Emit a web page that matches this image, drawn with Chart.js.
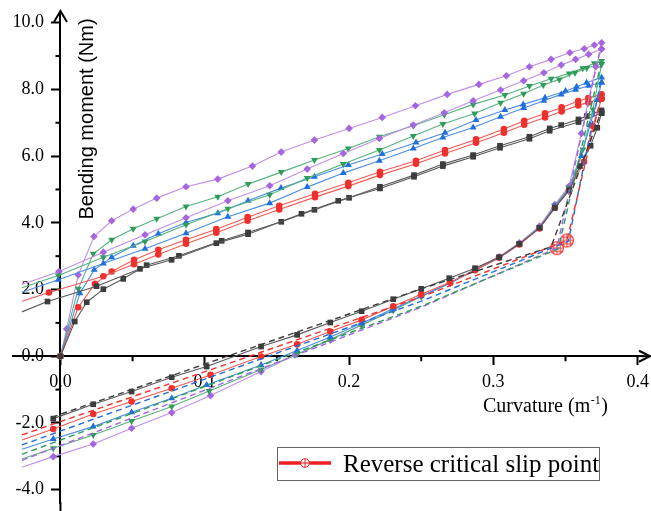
<!DOCTYPE html>
<html>
<head>
<meta charset="utf-8">
<script src="https://cdn.jsdelivr.net/npm/chart.js@4.4.1/dist/chart.umd.min.js"></script>
<style>
  html, body { margin: 0; padding: 0; background: #fff; }
  #momentChart { display: block; }
</style>
</head>
<body>
<canvas id="momentChart" width="651" height="511"></canvas>
<script>
// bending moment vs curvature, five specimens (loading, reloading, unloading, model)

const xTicks = [0, 0.1, 0.2, 0.3, 0.4];
const yTicks = [-4, -2, 0, 2, 4, 6, 8, 10];
const xMinor = [0.05, 0.15, 0.25, 0.35];
const yMinor = [-3, -1, 1, 3, 5, 7, 9];

// first loading branch [curvature, moment]
const grayLoad = [[0,0],[0.0099,1.04],[0.0182,1.62],[0.0297,2.01],[0.0435,2.32],[0.0597,2.73],[0.0821,3.01],[0.1117,3.46],[0.130,3.71],[0.153,4.03],[0.176,4.39],[0.200,4.75],[0.2214,5.08],[0.245,5.43],[0.265,5.76],[0.286,6.03],[0.3046,6.31],[0.325,6.58],[0.339,6.83],[0.347,6.93],[0.359,7.10],[0.3647,7.20],[0.375,7.37]];
const redLoad = [[0,0],[0.0123,1.47],[0.0239,2.17],[0.0355,2.54],[0.051,2.89],[0.0678,3.19],[0.087,3.49],[0.108,3.81],[0.1297,4.17],[0.1516,4.51],[0.1764,4.87],[0.1995,5.20],[0.2214,5.53],[0.2464,5.86],[0.2665,6.18],[0.288,6.50],[0.3073,6.81],[0.3214,7.06],[0.3358,7.28],[0.3473,7.46],[0.3588,7.65],[0.3658,7.74],[0.375,7.85]];
const blueLoad = [[0,0],[0.0135,1.89],[0.0234,2.59],[0.0355,2.97],[0.0504,3.31],[0.0678,3.67],[0.087,4.01],[0.109,4.29],[0.130,4.66],[0.1528,5.04],[0.176,5.38],[0.1995,5.73],[0.223,6.06],[0.2464,6.41],[0.2665,6.70],[0.288,7.08],[0.308,7.38],[0.3207,7.55],[0.3358,7.75],[0.350,7.95],[0.3577,8.08],[0.3646,8.20],[0.375,8.36]];
const greenLoad = [[0,0],[0.0123,2.02],[0.0227,3.07],[0.0355,3.49],[0.0504,3.82],[0.0667,4.12],[0.087,4.49],[0.109,4.78],[0.130,5.16],[0.153,5.52],[0.176,5.88],[0.1995,6.23],[0.221,6.58],[0.2445,6.91],[0.266,7.24],[0.286,7.55],[0.308,7.83],[0.325,8.10],[0.340,8.32],[0.3526,8.48],[0.362,8.63],[0.370,8.78],[0.375,8.85]];
const purpleLoad = [[0,0],[0.0043,0.82],[0.0123,2.44],[0.0232,3.59],[0.0355,4.06],[0.0504,4.41],[0.0667,4.74],[0.087,5.08],[0.109,5.31],[0.133,5.70],[0.153,6.12],[0.176,6.48],[0.200,6.83],[0.223,7.16],[0.246,7.51],[0.268,7.85],[0.290,8.15],[0.309,8.41],[0.325,8.68],[0.340,8.90],[0.353,9.10],[0.363,9.22],[0.370,9.33],[0.375,9.40]];

// reloading branch
const grayReload = [[-0.0267,1.33],[-0.009,1.64],[0.025,2.10],[0.0551,2.62],[0.077,2.89],[0.108,3.39],[0.130,3.66],[0.167,4.27],[0.1925,4.66],[0.2214,5.03],[0.245,5.38],[0.265,5.70],[0.286,5.98],[0.3046,6.25],[0.325,6.52],[0.339,6.76],[0.359,7.02],[0.375,7.29]];
const redReload = [[-0.0267,1.65],[-0.008,1.91],[0.0297,2.40],[0.051,2.76],[0.0678,3.05],[0.087,3.37],[0.108,3.70],[0.1297,4.06],[0.1516,4.40],[0.1764,4.77],[0.1995,5.10],[0.2214,5.43],[0.2464,5.77],[0.2665,6.08],[0.288,6.40],[0.3073,6.70],[0.3214,6.94],[0.3358,7.16],[0.3473,7.34],[0.3588,7.52],[0.3658,7.61],[0.375,7.72]];
const blueReload = [[-0.0267,1.92],[-0.0015,2.29],[0.0297,2.78],[0.0586,3.22],[0.087,3.69],[0.116,4.18],[0.145,4.59],[0.171,5.07],[0.196,5.49],[0.221,5.86],[0.2445,6.23],[0.265,6.56],[0.286,6.86],[0.305,7.18],[0.321,7.44],[0.335,7.66],[0.347,7.85],[0.357,7.99],[0.366,8.11],[0.375,8.21]];
const greenReload = [[-0.0267,2.05],[-0.0015,2.42],[0.0297,2.97],[0.0586,3.44],[0.087,3.94],[0.116,4.42],[0.145,4.84],[0.171,5.34],[0.196,5.76],[0.221,6.18],[0.2445,6.60],[0.265,6.96],[0.287,7.28],[0.305,7.60],[0.321,7.87],[0.3346,8.13],[0.3457,8.30],[0.3566,8.50],[0.3647,8.64],[0.375,8.76]];
const purpleReload = [[-0.0267,2.15],[-0.001,2.54],[0.0297,3.12],[0.0586,3.64],[0.087,4.15],[0.116,4.66],[0.145,5.11],[0.171,5.61],[0.196,6.08],[0.221,6.53],[0.2445,6.93],[0.266,7.30],[0.286,7.66],[0.305,7.98],[0.321,8.26],[0.335,8.50],[0.347,8.73],[0.357,8.90],[0.366,9.05],[0.375,9.21]];

// unloading branch (test)
const grayLow = [[-0.005,-1.87],[0.0227,-1.44],[0.0493,-1.06],[0.0771,-0.63],[0.1013,-0.31],[0.139,0.29],[0.164,0.64],[0.187,1.01],[0.2087,1.35],[0.2306,1.71],[0.250,2.02],[0.2694,2.34],[0.2873,2.64],[0.304,2.97],[0.318,3.37],[0.332,3.85],[0.3426,4.45],[0.3525,4.98],[0.360,5.70],[0.3674,6.31],[0.372,6.85],[0.375,7.29]];
const redLow = [[-0.0267,-2.51],[-0.005,-2.18],[0.0227,-1.73],[0.0493,-1.36],[0.0771,-0.96],[0.104,-0.56],[0.139,-0.01],[0.164,0.36],[0.187,0.74],[0.2087,1.09],[0.2306,1.50],[0.250,1.86],[0.270,2.22],[0.2873,2.58],[0.304,2.95],[0.318,3.35],[0.332,3.83],[0.3426,4.45],[0.3525,4.97],[0.3628,5.83],[0.369,6.90],[0.375,7.72]];
const blueLow = [[-0.0267,-2.79],[-0.005,-2.48],[0.0227,-2.11],[0.0493,-1.68],[0.0771,-1.26],[0.1013,-0.86],[0.139,-0.26],[0.164,0.17],[0.187,0.58],[0.2087,0.99],[0.2306,1.42],[0.250,1.80],[0.270,2.20],[0.2873,2.58],[0.304,2.95],[0.318,3.36],[0.332,3.84],[0.3426,4.50],[0.3525,5.00],[0.361,6.00],[0.367,6.93],[0.372,7.68],[0.375,8.21]];
const greenLow = [[-0.0267,-3.08],[-0.005,-2.76],[0.0227,-2.36],[0.0493,-1.94],[0.0771,-1.51],[0.103,-1.04],[0.139,-0.40],[0.164,0.06],[0.187,0.50],[0.2087,0.94],[0.2306,1.38],[0.250,1.79],[0.270,2.19],[0.2873,2.59],[0.304,2.96],[0.318,3.37],[0.332,3.86],[0.3426,4.52],[0.3525,5.05],[0.362,6.20],[0.369,7.40],[0.375,8.76]];
const purpleLow = [[-0.0267,-3.33],[-0.005,-3.01],[0.0227,-2.63],[0.0493,-2.16],[0.0771,-1.69],[0.104,-1.18],[0.139,-0.46],[0.1625,0.04],[0.187,0.49],[0.2087,0.94],[0.2306,1.39],[0.250,1.81],[0.270,2.19],[0.2873,2.61],[0.304,2.98],[0.318,3.40],[0.332,3.90],[0.3426,4.55],[0.3525,5.10],[0.361,6.68],[0.371,8.68],[0.375,9.21]];

// model (dashed)
const grayDash = [[-0.006,-1.83],[0.250,2.02],[0.340,3.28],[0.375,7.37]];
const redDash = [[-0.0267,-2.36],[0.250,1.78],[0.351,3.47],[0.375,7.85]];
const blueDash = [[-0.0267,-2.66],[0.250,1.65],[0.352,3.45],[0.375,8.36]];
const greenDash = [[-0.0267,-2.94],[0.250,1.50],[0.345,3.22],[0.375,8.85]];
const purpleDash = [[-0.0267,-3.12],[0.250,1.47],[0.344,3.24],[0.375,9.40]];

const slipX = [0.344, 0.351];
const slipY = [3.24, 3.47];

const colors = {
  gray:   { mark: '#3d3d3d', line: '#5a5a5a', style: 'rect',     rot: 0,   r: 4 },
  red:    { mark: '#f0302c', line: '#f25a55', style: 'circle',   rot: 0,   r: 3.3 },
  blue:   { mark: '#1f6fdc', line: '#4d8de8', style: 'triangle', rot: 0,   r: 4 },
  green:  { mark: '#2e9c5a', line: '#55b37d', style: 'triangle', rot: 180, r: 4 },
  purple: { mark: '#a566e0', line: '#c08fec', style: 'rectRot',  rot: 0,   r: 3.8 }
};

const serif = '"Liberation Serif", "Times New Roman", serif';

function pts(arr) {
  return arr.map(p => ({ x: p[0], y: p[1] }));
}

function solid(arr, c, hideFirst) {
  return {
    data: pts(arr),
    showLine: true,
    borderColor: c.line,
    borderWidth: 1.1,
    backgroundColor: c.mark,
    pointBackgroundColor: c.mark,
    pointBorderColor: c.mark,
    pointBorderWidth: 0,
    pointStyle: c.style,
    pointRotation: c.rot,
    pointRadius: ctx => (hideFirst && ctx.dataIndex === 0) ? 0 : c.r,
    tension: 0
  };
}

function dashed(arr, c) {
  return {
    data: pts(arr),
    showLine: true,
    borderColor: c.mark,
    borderWidth: 1.4,
    borderDash: [6, 4],
    pointRadius: 0,
    tension: 0
  };
}

function slipMarker(r) {
  const s = Math.ceil(r * 2 + 3);
  const cv = document.createElement('canvas');
  cv.width = s; cv.height = s;
  const g = cv.getContext('2d');
  const m = s / 2;
  g.beginPath(); g.arc(m, m, r, 0, Math.PI * 2);
  g.fillStyle = 'rgba(255,255,255,0.85)'; g.fill();
  g.save(); g.clip();
  g.strokeStyle = '#ee2b2b'; g.lineWidth = 0.9;
  for (const d of [-r / 2, 0, r / 2]) {
    g.beginPath(); g.moveTo(m + d, 0); g.lineTo(m + d, s); g.stroke();
    g.beginPath(); g.moveTo(0, m + d); g.lineTo(s, m + d); g.stroke();
  }
  g.restore();
  g.beginPath(); g.arc(m, m, r, 0, Math.PI * 2);
  g.strokeStyle = '#ee2b2b'; g.lineWidth = 1.1; g.stroke();
  return cv;
}

const datasets = [
  dashed(grayDash, colors.gray), dashed(redDash, colors.red), dashed(blueDash, colors.blue),
  dashed(greenDash, colors.green), dashed(purpleDash, colors.purple),
  solid(grayLow, colors.gray, false), solid(redLow, colors.red, true), solid(blueLow, colors.blue, true),
  solid(greenLow, colors.green, true), solid(purpleLow, colors.purple, true),
  solid(grayReload, colors.gray, true), solid(redReload, colors.red, true), solid(blueReload, colors.blue, true),
  solid(greenReload, colors.green, true), solid(purpleReload, colors.purple, true),
  solid(grayLoad, colors.gray, false), solid(redLoad, colors.red, false), solid(blueLoad, colors.blue, false),
  solid(greenLoad, colors.green, false), solid(purpleLoad, colors.purple, false),
  {
    label: 'Reverse critical slip point',
    data: slipX.map((x, i) => ({ x: x, y: slipY[i] })),
    showLine: false,
    pointStyle: slipMarker(6.5),
    pointRadius: 7
  }
];

const noPad = s => { s.paddingTop = 0; s.paddingBottom = 0; s.paddingLeft = 0; s.paddingRight = 0; };

const decor = {
  id: 'decor',
  beforeDatasetsDraw(chart) {
    const ctx = chart.ctx;
    const xs = chart.scales.x, ys = chart.scales.y;
    const a = chart.chartArea;
    const x0 = xs.getPixelForValue(0), y0 = ys.getPixelForValue(0);
    ctx.save();
    ctx.strokeStyle = '#000';
    ctx.lineWidth = 2;
    // axis lines run on past the plot area, as in the figure
    ctx.beginPath(); ctx.moveTo(a.right - 1, y0); ctx.lineTo(650, y0); ctx.stroke();
    ctx.beginPath(); ctx.moveTo(x0, a.bottom - 1); ctx.lineTo(x0, 511); ctx.stroke();
    xMinor.forEach(v => {
      const px = xs.getPixelForValue(v);
      ctx.beginPath(); ctx.moveTo(px, y0); ctx.lineTo(px, y0 + 5); ctx.stroke();
    });
    yMinor.forEach(v => {
      const py = ys.getPixelForValue(v);
      ctx.beginPath(); ctx.moveTo(x0, py); ctx.lineTo(x0 - 5, py); ctx.stroke();
    });
    // arrow heads
    ctx.beginPath();
    ctx.moveTo(x0 - 6.5, a.top + 10); ctx.lineTo(x0, a.top - 1); ctx.lineTo(x0 + 6.5, a.top + 10);
    ctx.stroke();
    ctx.beginPath();
    ctx.moveTo(639, y0 - 5.5); ctx.lineTo(650, y0); ctx.lineTo(639, y0 + 5.5);
    ctx.stroke();
    // y tick labels, left of the axis
    ctx.fillStyle = '#000';
    ctx.font = '18px ' + serif;
    ctx.textAlign = 'right';
    ctx.textBaseline = 'middle';
    yTicks.forEach(v => {
      ctx.fillText(v.toFixed(1), x0 - 16.5, ys.getPixelForValue(v));
    });
    ctx.restore();
  },
  afterDraw(chart) {
    const ctx = chart.ctx;
    ctx.save();
    // y title
    ctx.translate(87, 119);
    ctx.rotate(-Math.PI / 2);
    ctx.fillStyle = '#000';
    ctx.font = '20px "Liberation Sans", Arial, sans-serif';
    ctx.textAlign = 'center';
    ctx.textBaseline = 'middle';
    ctx.fillText('Bending moment (Nm)', 0, 0);
    ctx.restore();

    // x title
    ctx.save();
    ctx.fillStyle = '#000';
    ctx.textBaseline = 'alphabetic';
    ctx.textAlign = 'left';
    ctx.font = '20px ' + serif;
    let tx = 483;
    const base = 412;
    ctx.fillText('Curvature (m', tx, base);
    tx += ctx.measureText('Curvature (m').width;
    ctx.font = '12px ' + serif;
    ctx.fillText('-1', tx + 0.5, base - 8);
    tx += ctx.measureText('-1').width + 1;
    ctx.font = '20px ' + serif;
    ctx.fillText(')', tx, base);

    // legend
    ctx.strokeStyle = '#666';
    ctx.lineWidth = 1;
    ctx.strokeRect(277.5, 447.5, 322, 33);
    ctx.strokeStyle = '#ee2020';
    ctx.lineWidth = 3.5;
    ctx.beginPath(); ctx.moveTo(279, 463); ctx.lineTo(331, 463); ctx.stroke();
    ctx.beginPath(); ctx.arc(305, 463, 4.3, 0, Math.PI * 2);
    ctx.fillStyle = '#fff'; ctx.fill();
    ctx.lineWidth = 1; ctx.stroke();
    ctx.beginPath();
    ctx.moveTo(305, 458.7); ctx.lineTo(305, 467.3);
    ctx.moveTo(300.7, 463); ctx.lineTo(309.3, 463);
    ctx.stroke();
    ctx.fillStyle = '#000';
    ctx.font = '25px ' + serif;
    ctx.fillText('Reverse critical slip point', 343, 472);
    ctx.restore();
  }
};

new Chart(document.getElementById('momentChart'), {
  type: 'scatter',
  data: { datasets: datasets },
  options: {
    responsive: false,
    animation: false,
    devicePixelRatio: 1,
    layout: { padding: { left: 13, right: 0, top: 12, bottom: 0 } },
    plugins: { legend: { display: false }, tooltip: { enabled: false } },
    scales: {
      x: {
        type: 'linear',
        min: -0.0329,
        max: 0.4037,
        position: { y: 0 },
        afterBuildTicks: s => { s.ticks = xTicks.map(v => ({ value: v })); },
        afterFit: noPad,
        border: { display: true, color: '#000', width: 2 },
        grid: { display: true, drawOnChartArea: false, drawTicks: true, tickLength: 8, tickColor: '#000', tickWidth: 2 },
        ticks: {
          padding: 7,
          color: '#000',
          font: { family: serif, size: 18 },
          callback: v => v.toFixed(1)
        }
      },
      y: {
        type: 'linear',
        min: -4.40,
        max: 10.32,
        position: { x: 0 },
        afterBuildTicks: s => { s.ticks = yTicks.map(v => ({ value: v })); },
        afterFit: noPad,
        border: { display: true, color: '#000', width: 2 },
        grid: { display: true, drawOnChartArea: false, drawTicks: true, tickLength: 8, tickColor: '#000', tickWidth: 2 },
        ticks: { display: false }
      }
    }
  },
  plugins: [decor]
});
</script>
</body>
</html>
